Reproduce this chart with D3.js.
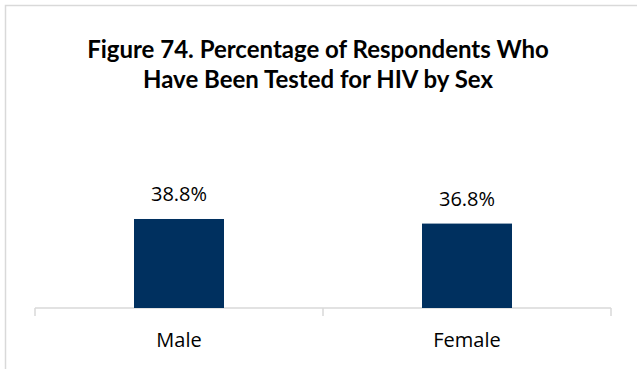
<!DOCTYPE html>
<html lang="en">
<head>
  <meta charset="utf-8">
  <title>Figure 74</title>
  <script src="https://d3js.org/d3.v7.min.js"></script>
  <style>
    body {
      margin: 0;
      background: #fff;
      font-family: "Open Sans", sans-serif;
    }
  </style>
</head>
<body>
<svg id="chart" width="637" height="369"></svg>

<script>
  // Données
  const titleLines = ["Figure 74. Percentage of Respondents Who", "Have Been Tested for HIV by Sex"];
  const categories = ["Male", "Female"];
  const values = [38.8, 36.8];

  const barColor = "#00305f";
  const gridColor = "#d9d9d9";

  const svg = d3.select("#chart");

  // Cadre (coupé à droite et en bas)
  svg.append("path")
      .attr("d", "M5.5,369 V5.5 H637")
      .attr("fill", "none")
      .attr("stroke", gridColor)
      .attr("stroke-width", 1.5);

  // Titre
  svg.append("text")
      .attr("x", 318)
      .attr("y", 58)
      .attr("text-anchor", "middle")
      .attr("font-family", "Lato, sans-serif")
      .attr("font-weight", "bold")
      .attr("font-size", 24)
      .selectAll("tspan")
      .data(titleLines)
      .join("tspan")
      .attr("x", 318)
      .attr("dy", (d, i) => i === 0 ? 0 : 30)
      .text(d => d);

  // Echelles
  const x = d3.scaleBand()
      .domain(categories)
      .range([35, 611])
      .paddingInner(0.6875)
      .paddingOuter(0.34375);

  const y = d3.scaleLinear()
      .domain([0, 50])
      .range([308, 193.3]);

  // Axe X : ligne de base et graduations entre catégories
  const bounds = [35, 35 + x.step(), 611];
  svg.append("line")
      .attr("x1", 35).attr("x2", 611)
      .attr("y1", 308).attr("y2", 308)
      .attr("stroke", gridColor)
      .attr("stroke-width", 1.5);
  svg.selectAll(".tick-mark")
      .data(bounds)
      .join("line")
      .attr("class", "tick-mark")
      .attr("x1", d => d).attr("x2", d => d)
      .attr("y1", 308).attr("y2", 316)
      .attr("stroke", gridColor)
      .attr("stroke-width", 1.5);

  // Barres
  svg.selectAll(".bar")
      .data(values)
      .join("rect")
      .attr("class", "bar")
      .attr("x", (d, i) => x(categories[i]))
      .attr("width", x.bandwidth())
      .attr("y", d => y(d))
      .attr("height", d => y(0) - y(d))
      .attr("fill", barColor);

  // Etiquettes de valeurs
  svg.selectAll(".label")
      .data(values)
      .join("text")
      .attr("class", "label")
      .attr("x", (d, i) => x(categories[i]) + x.bandwidth() / 2)
      .attr("y", d => y(d) - 18)
      .attr("text-anchor", "middle")
      .attr("font-size", 20)
      .attr("fill", "#000")
      .text(d => d.toFixed(1) + "%");

  // Catégories
  svg.selectAll(".cat")
      .data(categories)
      .join("text")
      .attr("class", "cat")
      .attr("x", d => x(d) + x.bandwidth() / 2)
      .attr("y", 347)
      .attr("text-anchor", "middle")
      .attr("font-size", 20)
      .attr("fill", "#000")
      .text(d => d);
</script>
</body>
</html>
